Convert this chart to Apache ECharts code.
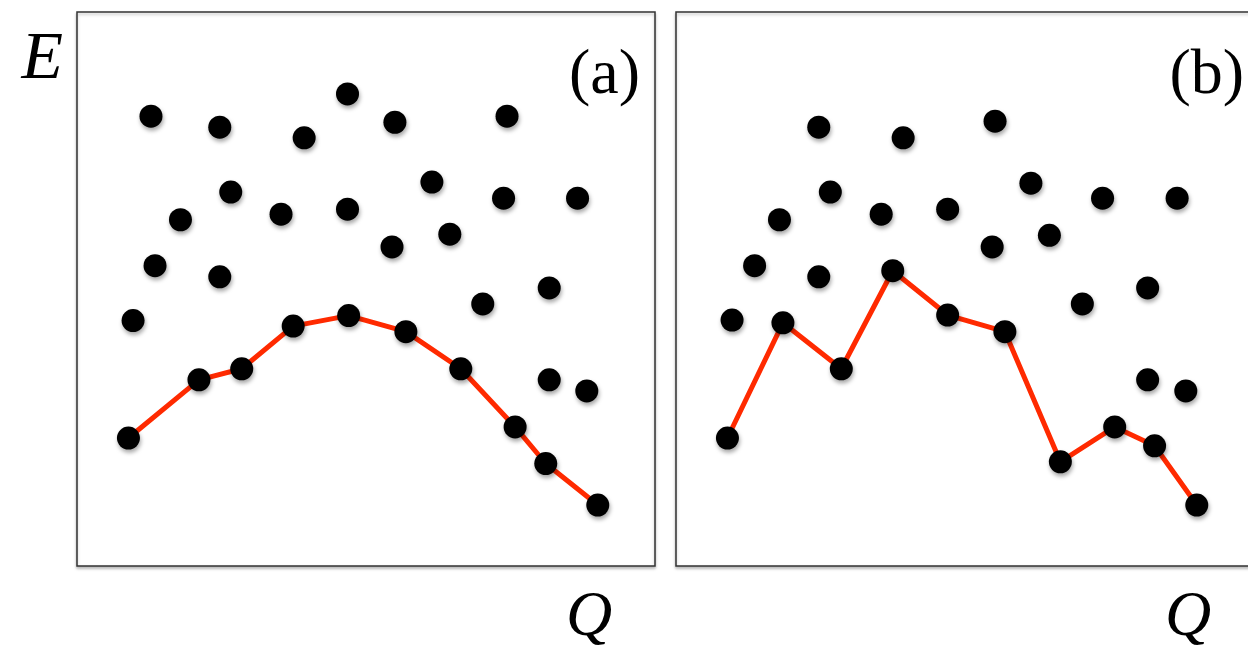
<!DOCTYPE html>
<html>
<head>
<meta charset="utf-8">
<script src="https://cdn.jsdelivr.net/npm/echarts@6/dist/echarts.min.js"></script>
<style>
html,body{margin:0;padding:0;background:#fff;}
#chart{width:1248px;height:656px;}
</style>
</head>
<body>
<div id="chart"></div>
<script>
// Panel (a): scattered states (Q, E) in 0..100 panel units
var cloudA = [
  [12.8,81.2],[24.7,79.2],[39.3,77.3],[46.8,85.2],[55.0,80.1],[74.4,81.2],
  [61.4,69.3],[26.6,67.5],[73.8,66.4],[86.6,66.4],[17.9,62.5],[35.3,63.5],
  [46.8,64.4],[54.5,57.6],[64.5,59.9],[13.5,54.2],[24.7,52.2],[81.7,50.2],
  [70.2,47.3],[9.7,44.3],[81.7,33.6],[88.2,31.6]
];
// Panel (a): lowest-energy path
var pathA = [
  [8.9,23.1],[21.1,33.6],[28.5,35.6],[37.4,43.3],[47.0,45.2],
  [56.9,42.3],[66.4,35.6],[75.8,25.1],[81.1,18.5],[90.1,11.0]
];
// Panel (b): scattered states
var cloudB = [
  [24.7,79.2],[39.3,77.3],[55.2,80.3],[86.7,66.4],[73.8,66.4],[61.4,69.1],
  [26.7,67.5],[17.9,62.5],[35.5,63.5],[47.0,64.4],[54.7,57.6],[64.6,59.7],
  [13.6,54.2],[24.7,52.2],[81.6,50.2],[70.3,47.3],[9.7,44.4],[81.6,33.6],
  [88.2,31.6]
];
// Panel (b): path
var pathB = [
  [8.9,23.1],[18.5,43.9],[28.6,35.6],[37.5,53.3],[47.0,45.3],
  [56.9,42.3],[66.5,18.8],[75.9,25.1],[82.8,21.7],[90.1,11.0]
];
var panelLabels = ['(a)','(b)'];
var axisLabels = { y: 'E', x: 'Q' };

var chart = echarts.init(document.getElementById('chart'), null, {renderer:'canvas'});

var dotStyle = {
  color:'#000', opacity:1,
  shadowColor:'rgba(0,0,0,0.35)', shadowBlur:4, shadowOffsetX:1, shadowOffsetY:3
};
var gridBase = {
  show:true, top:12, height:554, width:578, outerBoundsMode:'none',
  borderColor:'#333', borderWidth:1.5, backgroundColor:'#fff',
  shadowColor:'rgba(0,0,0,0.25)', shadowBlur:3, shadowOffsetY:2
};
function axis(idx){
  return {type:'value', min:0, max:100, gridIndex:idx, show:false};
}
var serif = '"Liberation Serif","DejaVu Serif",serif';

chart.setOption({
  animation:false,
  grid:[
    Object.assign({left:77}, gridBase),
    Object.assign({left:676}, gridBase)
  ],
  xAxis:[axis(0), axis(1)],
  yAxis:[axis(0), axis(1)],
  series:[
    {type:'scatter', xAxisIndex:0, yAxisIndex:0, data:cloudA, symbolSize:23, itemStyle:dotStyle},
    {type:'line', xAxisIndex:0, yAxisIndex:0, data:pathA, symbol:'circle', symbolSize:23,
     showSymbol:true, itemStyle:dotStyle, lineStyle:{color:'#ff2a00', width:5}},
    {type:'scatter', xAxisIndex:1, yAxisIndex:1, data:cloudB, symbolSize:23, itemStyle:dotStyle},
    {type:'line', xAxisIndex:1, yAxisIndex:1, data:pathB, symbol:'circle', symbolSize:23,
     showSymbol:true, itemStyle:dotStyle, lineStyle:{color:'#ff2a00', width:5}}
  ],
  graphic:[
    {type:'text', z:100, style:{x:63, y:60, text:axisLabels.y, textAlign:'right', textVerticalAlign:'middle',
      font:'italic 68px '+serif, fill:'#000'}},
    {type:'text', z:100, style:{x:640, y:76, text:panelLabels[0], textAlign:'right', textVerticalAlign:'middle',
      font:'64px '+serif, fill:'#000'}},
    {type:'text', z:100, style:{x:1244, y:76, text:panelLabels[1], textAlign:'right', textVerticalAlign:'middle',
      font:'64px '+serif, fill:'#000'}},
    {type:'text', z:100, style:{x:566, y:618, text:axisLabels.x, textAlign:'left', textVerticalAlign:'middle',
      font:'italic 64px '+serif, fill:'#000'}},
    {type:'text', z:100, style:{x:1165, y:618, text:axisLabels.x, textAlign:'left', textVerticalAlign:'middle',
      font:'italic 64px '+serif, fill:'#000'}}
  ]
});
</script>
</body>
</html>
